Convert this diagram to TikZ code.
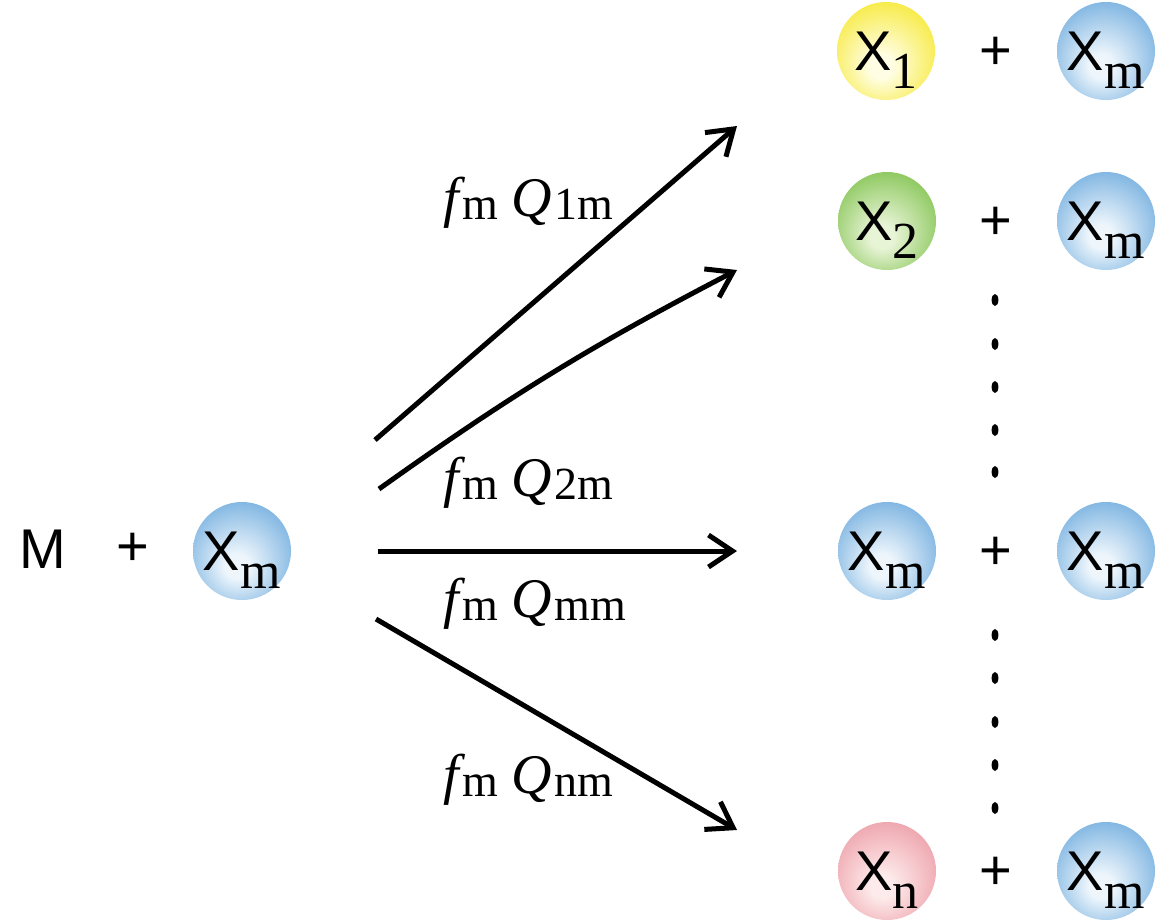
\documentclass[tikz,border=0pt]{standalone}
\usepackage{fontspec}
\setmainfont{Liberation Serif}
\newfontfamily\xsans{Liberation Sans}
\usetikzlibrary{arrows.meta}
\definecolor{bOut}{RGB}{112,172,222}
\definecolor{bIn}{RGB}{238,246,252}
\definecolor{yOut}{RGB}{246,232,48}
\definecolor{yIn}{RGB}{255,254,228}
\definecolor{gOut}{RGB}{128,194,78}
\definecolor{gIn}{RGB}{232,244,214}
\definecolor{pOut}{RGB}{236,156,166}
\definecolor{pIn}{RGB}{253,234,234}
\pgfdeclareradialshading{ballblue}{\pgfpoint{-3bp}{-9bp}}{color(0bp)=(bIn); color(6bp)=(bIn); color(33bp)=(bOut); color(50bp)=(bOut)}
\pgfdeclareradialshading{ballyellow}{\pgfpoint{-3bp}{-9bp}}{color(0bp)=(yIn); color(6bp)=(yIn); color(33bp)=(yOut); color(50bp)=(yOut)}
\pgfdeclareradialshading{ballgreen}{\pgfpoint{-3bp}{-9bp}}{color(0bp)=(gIn); color(6bp)=(gIn); color(33bp)=(gOut); color(50bp)=(gOut)}
\pgfdeclareradialshading{ballpink}{\pgfpoint{-3bp}{-9bp}}{color(0bp)=(pIn); color(6bp)=(pIn); color(33bp)=(pOut); color(50bp)=(pOut)}
\newcommand{\bigsans}{\xsans\fontsize{56}{60}\selectfont}
\newcommand{\Xsub}[1]{{\xsans\fontsize{56}{60}\selectfont X}\kern0.5pt\smash{\raisebox{-18pt}{\fontsize{52}{56}\selectfont #1}}}
\newcommand{\lbl}[1]{{\fontsize{56}{60}\selectfont\itshape f}\kern4pt\raisebox{-3pt}{\fontsize{46}{50}\selectfont m}\kern13pt{\fontsize{56}{60}\selectfont\itshape Q}\kern3pt\raisebox{-3pt}{\fontsize{46}{50}\selectfont #1}}
\tikzset{
  ball/.style={circle, minimum size=98pt, inner sep=0pt},
  bluea/.style={ball, shading=ballblue},
  yellowa/.style={ball, shading=ballyellow},
  greena/.style={ball, shading=ballgreen},
  pinka/.style={ball, shading=ballpink},
  plussign/.style={inner sep=0pt, font=\bigsans},
  rate/.style={inner sep=0pt, anchor=base west},
  reac/.style={line width=5pt, -{Straight Barb[length=24pt,width=32pt]}},
  dotmark/.style={fill=black, draw=none}
}
\begin{document}
\begin{tikzpicture}[x=1pt,y=-1pt]
\useasboundingbox (0,0) rectangle (1163,922);
% left side
\node[plussign] (M) at (43,549) {M};
\node[plussign] (lp) at (133,549) {+};
\node[bluea] (xl) at (242,551) {\Xsub{m}};
% right column
\node[yellowa] (x1) at (886,51) {\Xsub{1}};
\node[plussign] (p1) at (996,53) {+};
\node[bluea] (r1) at (1106,51) {\Xsub{m}};
\node[greena] (x2) at (887,221) {\Xsub{2}};
\node[plussign] (p2) at (996,223) {+};
\node[bluea] (r2) at (1106,221) {\Xsub{m}};
\node[bluea] (xm) at (887,551) {\Xsub{m}};
\node[plussign] (pm) at (996,553) {+};
\node[bluea] (rm) at (1106,551) {\Xsub{m}};
\node[pinka] (xn) at (887,871) {\Xsub{n}};
\node[plussign] (pn) at (996,873) {+};
\node[bluea] (rn) at (1106,871) {\Xsub{m}};
% dots
\foreach \yy [count=\i] in {300,344,387,430,472,635,678,722,765,808}
  \fill[dotmark] (995,\yy) ellipse (3.4 and 6);
% arrow coordinates
\coordinate (s1) at (375,440);
\coordinate (e1) at (737,126);
\coordinate (s2) at (379,489);
\coordinate (e2) at (737,270);
\coordinate (s3) at (378,551);
\coordinate (e3) at (737,551);
\coordinate (s4) at (376,619);
\coordinate (e4) at (737,830);
\draw[reac] (s1) -- (e1);
\draw[reac] (s2) to[bend left=4] (e2);
\draw[reac] (s3) -- (e3);
\draw[reac] (s4) -- (e4);
% labels
\node[rate] (l1) at (443,216) {\lbl{1m}};
\node[rate] (l2) at (443,496) {\lbl{2m}};
\node[rate] (l3) at (443,617) {\lbl{mm}};
\node[rate] (l4) at (443,793) {\lbl{nm}};
\end{tikzpicture}
\end{document}
